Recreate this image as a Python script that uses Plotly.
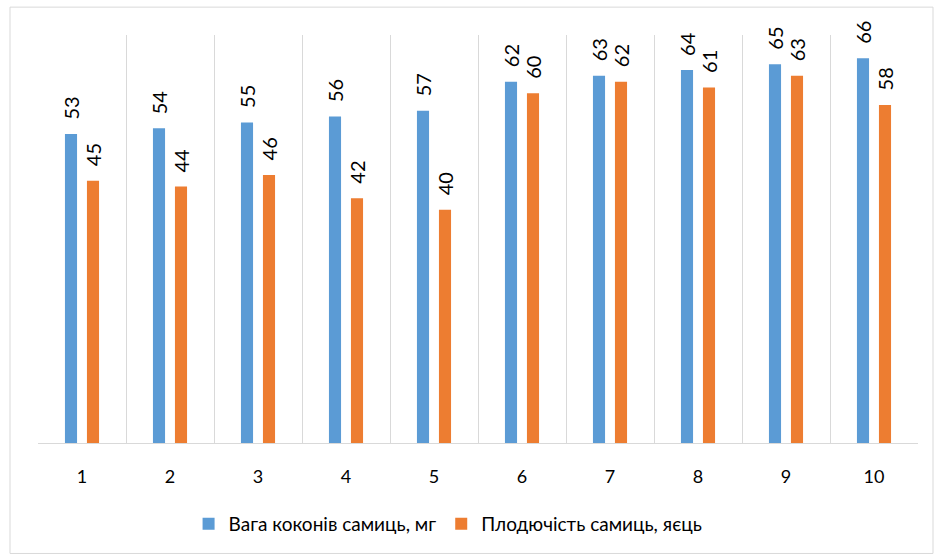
import plotly.graph_objects as go

categories = ["1", "2", "3", "4", "5", "6", "7", "8", "9", "10"]
weight = [53, 54, 55, 56, 57, 62, 63, 64, 65, 66]
fertility = [45, 44, 46, 42, 40, 60, 62, 61, 63, 58]
series_names = ["Вага коконів самиць, мг", "Плодючість самиць, яєць"]
colors = ["#5B9BD5", "#ED7D31"]

FONT = "Lato"
fig = go.Figure()
for name, vals, col in zip(series_names, [weight, fertility], colors):
    fig.add_trace(go.Bar(x=categories, y=vals, name=name,
                         marker=dict(color=col, line=dict(width=0))))

annotations = []
for vals, shift in [(weight, -11), (fertility, 11)]:
    for i, v in enumerate(vals):
        annotations.append(dict(x=i, y=v, xref="x", yref="y", text=str(v),
                                showarrow=False, textangle=-90, xshift=shift,
                                yanchor="bottom", yshift=12,
                                font=dict(size=20, family=FONT, color="#000000")))

fig.update_layout(
    width=934, height=555,
    margin=dict(l=38, r=16, t=35, b=110),
    paper_bgcolor="white", plot_bgcolor="white",
    barmode="group", bargap=0.5, bargroupgap=0.45,
    font=dict(family=FONT, size=18, color="#000000"),
    showlegend=True,
    legend=dict(orientation="h", x=0.466, xanchor="center", y=-0.198, yanchor="middle",
                font=dict(size=19, family=FONT), traceorder="normal"),
    xaxis=dict(type="category", tickson="boundaries", showgrid=True,
               range=[-0.5, len(categories) - 0.5],
               gridcolor="#d9d9d9", gridwidth=1, showline=True, linecolor="#d9d9d9",
               linewidth=1, ticks="", tickfont=dict(size=18, family=FONT),
               ticklabelstandoff=17),
    yaxis=dict(range=[0, 70], visible=False, showgrid=False),
    annotations=annotations,
    shapes=[dict(type="rect", xref="paper", yref="paper",
                 x0=(10 - 38) / 880, x1=(933 - 38) / 880,
                 y0=(445 - 556) / 410, y1=(445 - 7) / 410,
                 line=dict(color="#d9d9d9", width=1), fillcolor="rgba(0,0,0,0)",
                 layer="below")],
)
fig.write_html("out.html")
